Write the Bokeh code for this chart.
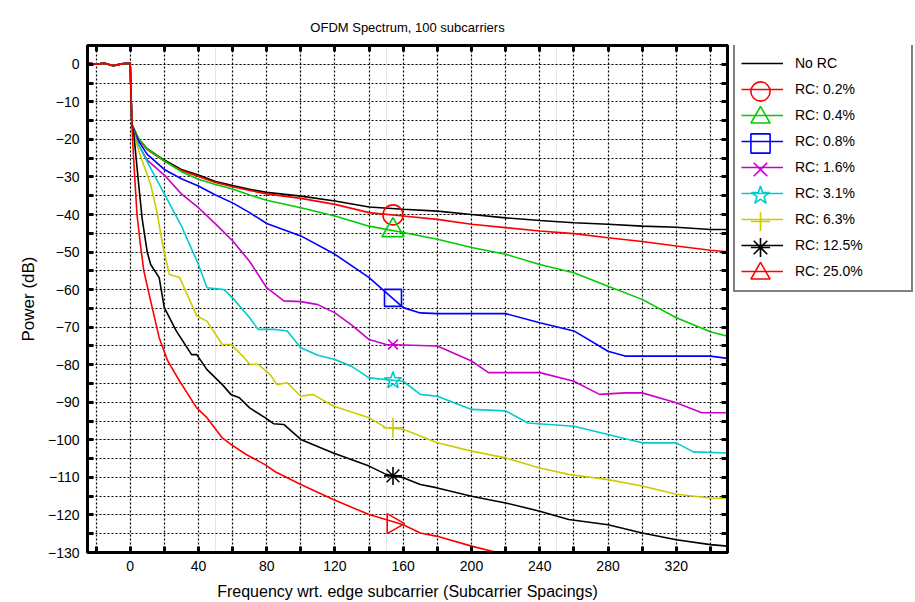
import numpy as np
from bokeh.plotting import figure
from bokeh.layouts import row
from bokeh.models import (FixedTicker, LinearAxis, Legend, LegendItem, Range1d, Grid,
                          CustomJSTickFormatter)
from bokeh.embed import file_html
from bokeh.resources import INLINE

# ---------------- data ----------------
band_f = [-25, -20, -15, -10, -5, 0]
band_db = [0.4, 0.0, 0.3, -0.4, 0.1, 0.3]

norc_f = [1, 3, 5, 10, 20, 30, 40, 50, 60, 70, 80, 100, 120, 140, 160, 180, 200, 220, 240, 260, 280, 300, 320, 340, 350]
norc_db = [-16, -18, -20, -22.5, -25.5, -28, -29.5, -31.2, -32.3, -33.3, -34.1, -35.1, -36.4, -38.0, -38.6, -39.1, -40.0, -40.9, -41.6, -42.2, -42.6, -43.1, -43.4, -44.0, -44.0]

rc02_f = [1, 3, 5, 10, 20, 30, 40, 50, 60, 70, 80, 100, 120, 140, 160, 180, 200, 220, 240, 260, 280, 300, 320, 340, 350]
rc02_db = [-16, -18, -20, -22.7, -25.8, -28.3, -29.9, -31.5, -32.6, -33.6, -34.5, -35.7, -37.3, -39.5, -40.4, -41.3, -42.6, -43.5, -44.4, -45.1, -46.2, -47.2, -48.4, -49.5, -49.9]

rc04_f = [1, 3, 5, 10, 20, 30, 40, 50, 60, 70, 80, 100, 120, 140, 160, 180, 200, 220, 240, 260, 280, 300, 320, 340, 350]
rc04_db = [-16, -18, -19.8, -22.5, -25.7, -28.6, -30.6, -32.0, -33.2, -34.8, -36.2, -38.2, -40.4, -43.1, -44.8, -46.6, -48.8, -50.6, -53.3, -55.5, -59.1, -62.6, -67.5, -71.2, -72.4]

rc08_f = [1, 3, 5, 10, 20, 30, 40, 50, 60, 70, 80, 100, 120, 140, 160, 170, 180, 200, 220, 240, 260, 280, 290, 340, 350]
rc08_db = [-16, -18.5, -20.5, -24, -28, -30.5, -32.4, -34.8, -36.9, -39.5, -42.4, -45.7, -50.6, -56.8, -64.8, -66.2, -66.4, -66.4, -66.4, -68.8, -71, -76.4, -77.7, -77.7, -78.3]

rc16_f = [1, 3, 5, 10, 20, 30, 40, 50, 60, 70, 80, 90, 100, 110, 120, 130, 140, 150, 180, 200, 210, 240, 260, 275, 290, 300, 320, 335, 350]
rc16_db = [-16, -19, -21.5, -25.5, -29.5, -34.5, -38.2, -42.5, -47, -52.5, -59.5, -63, -63.2, -64, -66.2, -69.5, -73.3, -74.6, -75, -79, -82.1, -82.1, -84.4, -87.9, -87.5, -87.5, -90.1, -92.8, -92.8]

rc31_f = [1, 3, 5, 10, 20, 30, 40, 45, 55, 60, 70, 75, 85, 92, 100, 110, 120, 130, 140, 160, 170, 180, 200, 220, 233, 260, 280, 300, 320, 330, 350]
rc31_db = [-16, -19.5, -21.5, -26, -34.5, -43, -53.3, -59.5, -60, -62.2, -67.5, -70.6, -70.6, -71, -75.5, -77.5, -78.6, -80.5, -83.5, -84.4, -87.9, -88.4, -91.9, -92.3, -95.5, -96.4, -98.6, -100.8, -100.8, -103.2, -103.5]

rc63_f = [1, 3, 5, 12, 16, 19, 23, 29, 39, 45, 54, 59, 66, 70, 75, 82, 86, 92, 100, 107, 119, 140, 150, 160, 170, 180, 200, 220, 240, 257, 280, 300, 320, 340, 350]
rc63_db = [-16, -20, -23, -32, -40, -48, -56, -56.8, -67, -68.4, -74.6, -74.6, -77.7, -79.9, -79.9, -82.6, -85.3, -84.8, -88.4, -87.9, -91, -94.1, -96.8, -97.2, -99, -100.8, -103, -104.8, -107.5, -109.2, -110.6, -112.3, -114.5, -115.5, -115.6]

rc125_f = [1, 2, 5, 7, 10, 12, 17, 20, 27, 36, 39, 45, 54, 59, 64, 70, 79, 84, 90, 100, 119, 140, 150, 160, 170, 180, 200, 220, 240, 257, 280, 300, 320, 340, 350]
rc125_db = [-16, -18, -32, -41, -50, -53.3, -56.8, -64.8, -71, -77.3, -77.3, -81.3, -85.3, -87.9, -88.8, -91.5, -94.1, -95.7, -95.9, -99.9, -103.5, -107, -109.2, -110.1, -111.9, -112.8, -115, -116.8, -119, -121.2, -122.6, -124.8, -126.6, -127.9, -128.3]

rc250_f = [1, 2, 4, 6, 8, 12, 17, 22, 29, 39, 45, 54, 59, 68, 79, 85, 100, 119, 140, 160, 170, 180, 200, 215]
rc250_db = [-16, -25, -40, -48, -55, -63, -72.8, -79, -84.4, -91.5, -94.1, -99.5, -101.2, -103.9, -106.6, -108.5, -111.9, -115.9, -119.9, -122.6, -124.8, -125.7, -128.3, -130]

labels = ["No RC", "RC: 0.2%", "RC: 0.4%", "RC: 0.8%", "RC: 1.6%", "RC: 3.1%", "RC: 6.3%", "RC: 12.5%", "RC: 25.0%"]
marker_f = 154
marker_db = [-40.1, -44.2, -62.2, -74.6, -84.2, -96.8, -109.6, -122.3]

x_ticks = [0, 40, 80, 120, 160, 200, 240, 280, 320]
x_minor = [-20, 20, 60, 100, 140, 180, 220, 260, 300, 340]
y_ticks = list(range(-130, 1, 10))
y_minor = list(range(-125, 0, 10))

# ---------------- styling ----------------
colors = ["black", "#ff0000", "#00cc00", "#0000ff", "#cc00cc", "#00cccc", "#cccc00", "black", "#ff0000"]
markers = [None, "circle", "triangle", "square", "x", "star", "cross", "asterisk", "triangle"]
msizes = [None, 20, 22, 17, 14, 18, 20, 18, 20]
angles = [0, 0, 0, 0, 0, 0, 0, 0, -np.pi / 2]
FONT = "Liberation Sans"

series = [(norc_f, norc_db), (rc02_f, rc02_db), (rc04_f, rc04_db), (rc08_f, rc08_db),
          (rc16_f, rc16_db), (rc31_f, rc31_db), (rc63_f, rc63_db), (rc125_f, rc125_db),
          (rc250_f, rc250_db)]

# ---------------- main plot ----------------
p = figure(width=733, height=602, output_backend="svg", toolbar_location=None,
           x_range=Range1d(-25, 350), y_range=Range1d(-130, 5),
           min_border_left=87, min_border_right=6, min_border_top=45, min_border_bottom=50,
           x_axis_location=None, y_axis_location=None)
p.background_fill_color = "white"
p.border_fill_color = "white"
p.outline_line_color = "black"
p.outline_line_width = 3

xticker = FixedTicker(ticks=x_ticks, minor_ticks=x_minor)
yticker = FixedTicker(ticks=y_ticks, minor_ticks=y_minor)

for dim, tk in ((0, xticker), (1, yticker)):
    g = Grid(dimension=dim, ticker=tk, grid_line_color="black", grid_line_dash="2 2",
             grid_line_width=1.2, minor_grid_line_color="black", minor_grid_line_dash="2 2",
             minor_grid_line_width=1.2)
    p.add_layout(g)


def make_axis(ticker, labels_on, standoff=8):
    ax = LinearAxis(ticker=ticker)
    ax.axis_line_width = 3
    ax.axis_line_color = "black"
    ax.major_tick_in = 6
    ax.major_tick_out = 0
    ax.major_tick_line_width = 3
    ax.minor_tick_in = 6
    ax.minor_tick_out = 0
    ax.minor_tick_line_width = 3
    ax.major_label_text_font = FONT
    ax.major_label_text_font_size = "14px"
    ax.major_label_text_color = "black"
    ax.axis_label_text_font = FONT
    ax.axis_label_text_font_style = "normal"
    ax.axis_label_text_color = "black"
    if not labels_on:
        ax.formatter = CustomJSTickFormatter(code="return ''")
    ax.major_label_standoff = standoff
    return ax


ax_left = make_axis(yticker, True)
ax_left.axis_label = "Power (dB)"
ax_left.axis_label_text_font_size = "17px"
ax_left.axis_label_standoff = 7
ax_bottom = make_axis(xticker, True)
ax_bottom.axis_label = "Frequency wrt. edge subcarrier (Subcarrier Spacings)"
ax_bottom.axis_label_text_font_size = "16px"
ax_bottom.axis_label_standoff = 9
p.add_layout(ax_left, "left")
p.add_layout(ax_bottom, "below")
p.add_layout(make_axis(xticker, False, standoff=0), "above")
p.add_layout(make_axis(yticker, False, standoff=0), "right")

for i, (fx, fy) in enumerate(series):
    p.line(band_f + fx, band_db + fy, line_color=colors[i], line_width=1.6)
    if markers[i] is not None:
        p.scatter([marker_f], [marker_db[i - 1]], marker=markers[i], size=msizes[i],
                  angle=angles[i], line_color=colors[i], fill_color=None, line_width=1.6)

p.title.text = "OFDM Spectrum, 100 subcarriers"
p.title.align = "center"
p.title.text_font = FONT
p.title.text_font_size = "13px"
p.title.text_font_style = "normal"
p.title.text_color = "black"
p.title.standoff = 22

# ---------------- legend panel (its frame is aligned with the main frame) ----------------
q = figure(width=182, height=602, output_backend="svg", toolbar_location=None, title=None,
           x_range=Range1d(1000, 1001), y_range=Range1d(1000, 1001), min_border=0,
           x_axis_location=None, y_axis_location=None)
q.outline_line_color = None
q.background_fill_color = "white"
q.border_fill_color = "white"
q.grid.visible = False

FRAME_H = 507
LEG_X, PAD, ROW, GW = 0, 6, 26, 42
LEG_H = 2 * PAD + ROW * len(series)
LEG_BOTTOM = FRAME_H - LEG_H - 1
MGW = 48  # glyph box for the larger legend markers

line_items = []
overlays = []
for i, (fx, fy) in enumerate(series):
    # same series drawn off-range in the legend panel so that the legend can show its style
    ln = q.line(band_f + fx, band_db + fy, line_color=colors[i], line_width=1.6)
    line_items.append(LegendItem(label=labels[i], renderers=[ln]))
    if markers[i] is not None:
        sc = q.scatter([marker_f], [marker_db[i - 1]], marker=markers[i], size=msizes[i],
                       line_color=colors[i], fill_color=None, line_width=1.6)
        row_center = LEG_BOTTOM + PAD + ROW * (len(series) - i) - ROW / 2
        overlays.append(Legend(items=[LegendItem(label="", renderers=[sc])],
                               location=(LEG_X + PAD + GW / 2 - MGW / 2, row_center - MGW / 2),
                               glyph_width=MGW, glyph_height=MGW, padding=0, margin=0,
                               label_width=0, label_height=0, label_standoff=0, spacing=0,
                               border_line_color=None, background_fill_alpha=0,
                               label_text_font_size="1px"))

legend = Legend(items=line_items, location=(LEG_X, LEG_BOTTOM))
legend.label_text_font = FONT
legend.label_text_font_size = "14px"
legend.label_text_color = "black"
legend.glyph_width = GW
legend.glyph_height = ROW
legend.label_height = ROW
legend.spacing = 0
legend.padding = PAD
legend.label_standoff = 12
legend.label_width = 110
legend.margin = 0
legend.border_line_color = "black"
legend.border_line_width = 2
legend.background_fill_color = "white"
legend.background_fill_alpha = 1
q.add_layout(legend)
for o in overlays:
    q.add_layout(o)

layout = row(p, q, spacing=0)
open("out.html", "w").write(file_html(layout, INLINE))
